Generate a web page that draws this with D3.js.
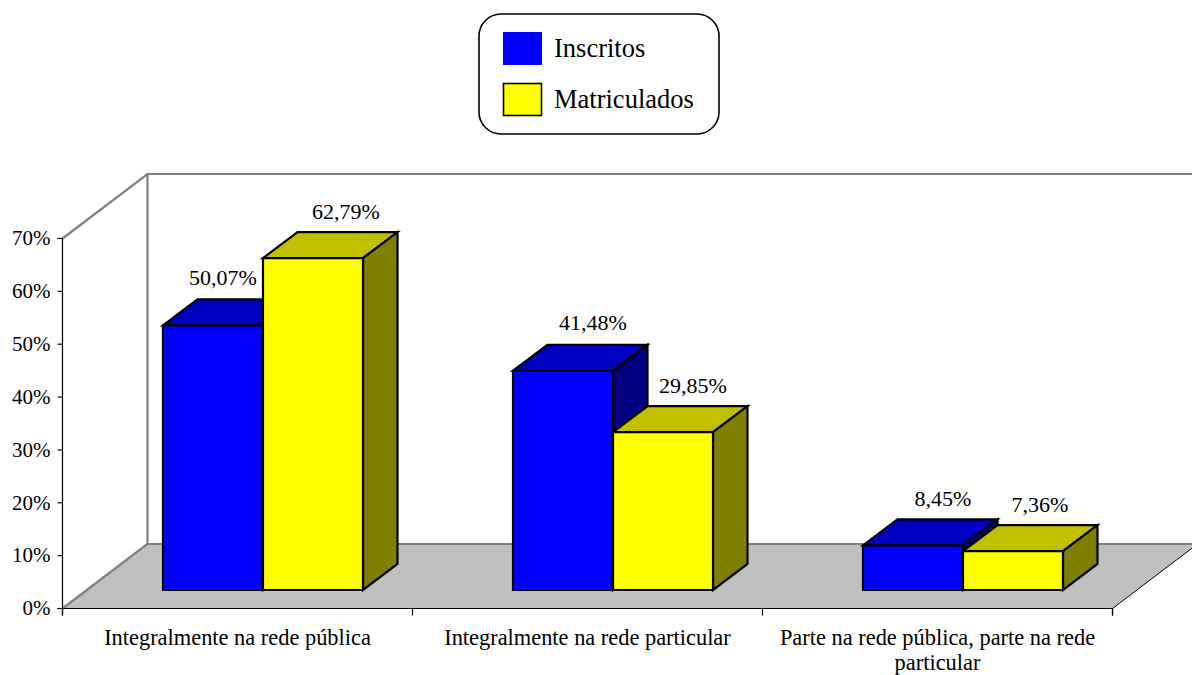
<!DOCTYPE html>
<html><head><meta charset="utf-8">
<script src="https://cdn.jsdelivr.net/npm/d3@7"></script>
<style>html,body{margin:0;background:#fff}svg{display:block}text{font-family:"Liberation Serif","Times New Roman",serif;fill:#000}</style>
</head><body><svg id="c" width="1192" height="675"></svg>
<script>
const categories = ["Integralmente na rede pública","Integralmente na rede particular","Parte na rede pública, parte na rede particular"];
const seriesNames = ["Inscritos","Matriculados"];
const inscritos = [50.07,41.48,8.45];
const matriculados = [62.79,29.85,7.36];
const yTicks = [0,10,20,30,40,50,60,70];
const frontColors = ["#0000ff","#ffff00"];
const topColors = ["#0000c0","#c0c000"];
const sideColors = ["#000080","#808000"];

const W=1192,H=675,FS=22,CS=22.4,TS=21;
const svg=d3.select("#c");
const y=d3.scaleLinear().domain([0,70]).range([608.5,238.5]);
const x=d3.scaleBand().domain(categories).range([62.5,1112.5]).paddingInner(150/350).paddingOuter(75/350);
const xEdge=d3.scaleLinear().domain([0,3]).range([62.5,1112.5]);
const sub=d3.scaleBand().domain(seriesNames).range([0,x.bandwidth()]);
const wall={dx:85,dy:-64.5}, bar={dx:34.5,dy:-26}, front={dx:25.5,dy:-18.5};
const fmt=v=>d3.format(".2f")(v).replace(".",",")+"%";
const pts=a=>a.map(p=>p.join(",")).join(" ");

const clip=svg.append("defs").append("clipPath").attr("id","pg");
clip.append("rect").attr("width",W).attr("height",H);
const plot=svg.append("g").attr("clip-path","url(#pg)");
const x0=xEdge(0),x1=xEdge(3),yb=y(0),yt=y(70);
plot.append("polygon").attr("points",pts([[x0,yb],[x0+wall.dx,yb+wall.dy],[x1+wall.dx,yb+wall.dy],[x1,yb]])).attr("fill","#c0c0c0");
const grey={stroke:"#808080","stroke-width":2.2,fill:"none"};
const gp=plot.append("polyline").attr("points",pts([[x0,yt],[x0+wall.dx,yt+wall.dy],[x1+wall.dx,yt+wall.dy]]));
const gp2=plot.append("polyline").attr("points",pts([[x0+wall.dx,yt+wall.dy],[x0+wall.dx,yb+wall.dy],[x0,yb]]));
const gp3=plot.append("line").attr("x1",x0+wall.dx).attr("y1",yb+wall.dy).attr("x2",x1+wall.dx).attr("y2",yb+wall.dy);
[gp,gp2,gp3].forEach(s=>Object.entries(grey).forEach(([k,v])=>s.attr(k,v)));
plot.append("line").attr("x1",x1).attr("y1",yb).attr("x2",x1+wall.dx).attr("y2",yb+wall.dy).attr("stroke","#000").attr("stroke-width",1);

// axes
const ay=svg.append("g").attr("transform",`translate(${x0},0)`).call(d3.axisLeft(y).offset(0).tickValues(yTicks).tickFormat(d=>d+"%").tickSize(5).tickPadding(7));
ay.select(".domain").attr("stroke-width",1.2);
ay.selectAll("line").attr("stroke-width",1.2);
ay.selectAll("text").attr("font-size",TS).attr("font-family","'Liberation Serif'");
const ax=svg.append("g").attr("transform",`translate(0,${yb})`).call(d3.axisBottom(xEdge).offset(0).tickValues([0,1,2,3]).tickFormat("").tickSize(7));
ax.select(".domain").attr("stroke-width",1.2);
ax.selectAll("line").attr("stroke-width",1.2);

// bars
const labelNudge=[[-20,-1],[0,-2],[0,0],[3,0],[0,0],[-3,0]];
const blackLine={stroke:"#000","stroke-width":2.2,"stroke-linejoin":"miter"};
[inscritos,matriculados].forEach((vals,s)=>{
  const g=plot.append("g");
  vals.forEach((v,i)=>{
    const L=x(categories[i])+sub(seriesNames[s])+front.dx, R=L+sub.bandwidth();
    const B=yb+front.dy, T=y(v)+front.dy;
    const add=(p,c)=>{const e=g.append("polygon").attr("points",pts(p)).attr("fill",c);Object.entries(blackLine).forEach(([k,w])=>e.attr(k,w));};
    add([[L,T],[L+bar.dx,T+bar.dy],[R+bar.dx,T+bar.dy],[R,T]],topColors[s]);
    add([[R,T],[R+bar.dx,T+bar.dy],[R+bar.dx,B+bar.dy],[R,B]],sideColors[s]);
    add([[L,T],[R,T],[R,B],[L,B]],frontColors[s]);
  });
});
// value labels
[inscritos,matriculados].forEach((vals,s)=>{
  vals.forEach((v,i)=>{
    const L=x(categories[i])+sub(seriesNames[s])+front.dx;
    const n=labelNudge[s*3+i];
    svg.append("text").attr("x",L+sub.bandwidth()/2+30+n[0]).attr("y",y(v)+front.dy+bar.dy-13+n[1])
      .attr("text-anchor","middle").attr("font-size",FS).text(fmt(v));
  });
});
// category labels
categories.forEach(c=>{
  const t=svg.append("text").attr("x",x(c)+x.bandwidth()/2).attr("y",yb+36.5).attr("text-anchor","middle").attr("font-size",CS);
  const words=c.split(" ");let line=[],dy=0;
  const flush=()=>{t.append("tspan").attr("x",x(c)+x.bandwidth()/2).attr("dy",dy).text(line.join(" "));dy=25;};
  const probe=svg.append("text").attr("font-size",CS).attr("visibility","hidden");
  words.forEach(w=>{
    probe.text([...line,w].join(" "));
    if(probe.node().getComputedTextLength()>335&&line.length){flush();line=[w];}else line.push(w);
  });
  flush();probe.remove();
});
// legend
const lg=svg.append("g");
lg.append("rect").attr("x",479).attr("y",14).attr("width",240).attr("height",120).attr("rx",22).attr("fill","#fff").attr("stroke","#000").attr("stroke-width",1.6);
seriesNames.forEach((n,i)=>{
  const ly=d3.scalePoint().domain(seriesNames).range([32.5,83.5])(n);
  lg.append("rect").attr("x",503.5).attr("y",ly).attr("width",38).attr("height",32).attr("fill",frontColors[i]).attr("stroke",i?"#000":"#0000ff").attr("stroke-width",i?1.6:1);
  lg.append("text").attr("x",554).attr("y",ly+24).attr("font-size",26.5).text(n);
});
</script></body></html>
